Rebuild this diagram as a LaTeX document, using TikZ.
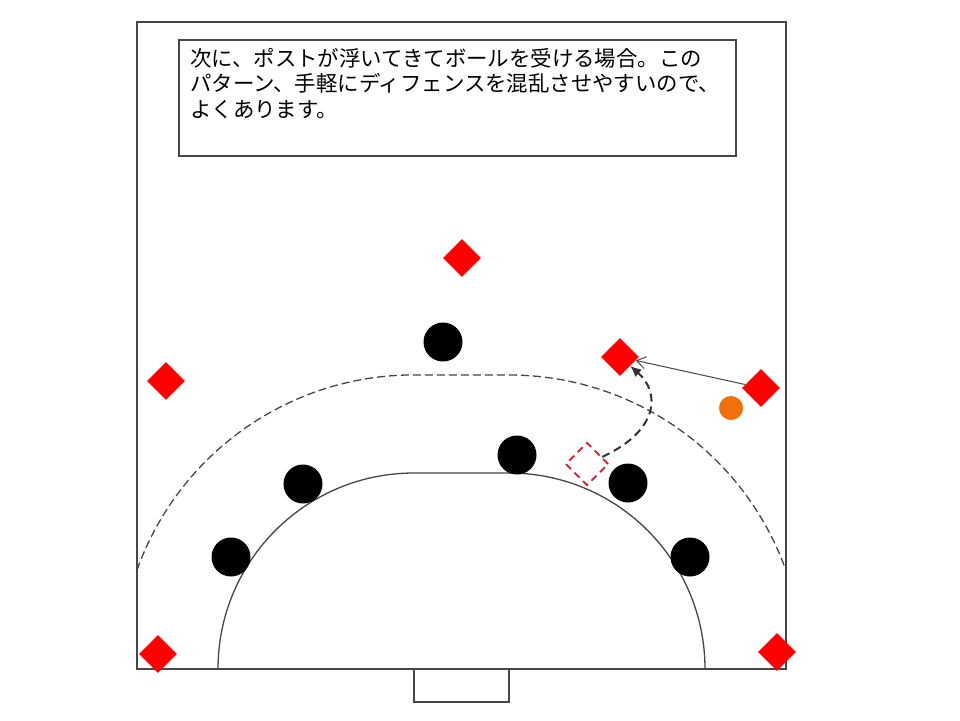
\documentclass[tikz,border=0pt]{standalone}
\usepackage{fontspec}
\newfontfamily\jpfont{Noto Sans CJK JP}
\usepackage{tikz}
\usetikzlibrary{shapes.geometric,arrows.meta}
\definecolor{courtgray}{RGB}{70,70,70}
\definecolor{ballorange}{RGB}{242,112,10}
\definecolor{ghostred}{RGB}{215,25,45}
\tikzset{attack node/.style={diamond,fill=red,minimum width=38pt,minimum height=38pt,inner sep=0pt},
	defense node/.style={circle,fill=black,minimum size=39pt,inner sep=0pt},
	ball node/.style={circle,fill=ballorange,minimum size=24pt,inner sep=0pt},
	ghost node/.style={diamond,draw=ghostred,dash pattern=on 7pt off 5pt,line width=1.8pt,minimum width=43pt,minimum height=43pt,inner sep=0pt},
	note node/.style={font=\jpfont\fontsize{21.4}{25.5}\selectfont,align=left,anchor=north west,inner sep=0pt},
}

\begin{document}
\begin{tikzpicture}[x=1pt,y=1pt]
	\useasboundingbox[fill=white] (0,0) rectangle (960,-720);
	\draw[courtgray,line width=1.8pt] (137,-22) rectangle (786,-669);
	\draw[courtgray,line width=1.4pt] (414,-669) rectangle (509,-702);
	\draw[courtgray,line width=1.3pt] (218,-669) arc[start angle=180,end angle=90,radius=196]
		-- (509,-473) arc[start angle=90,end angle=0,radius=196];
	\draw[courtgray,line width=1.3pt,dash pattern=on 8pt off 4pt] (137,-570) arc[start angle=160.34,end angle=90,radius=294]
		-- (509,-375) arc[start angle=90,end angle=19.66,radius=294];
	\draw[courtgray,line width=1.1pt] (179,-40) rectangle (736,-156);
	\node[note node] (note) at (190,-48) {次に、ポストが浮いてきてボールを受ける場合。この\\パターン、手軽にディフェンスを混乱させやすいので、\\よくあります。};
	
	\node[attack node] (a1) at (462,-258) {};
	\node[attack node] (a2) at (166,-381) {};
	\node[attack node] (a3) at (620,-357) {};
	\node[attack node] (a4) at (761,-388) {};
	\node[attack node] (a5) at (158,-654) {};
	\node[attack node] (a6) at (777,-652) {};
	\node[defense node] (d1) at (443,-342) {};
	\node[defense node] (d2) at (303,-484) {};
	\node[defense node] (d3) at (231,-557) {};
	\node[defense node] (d4) at (517,-455) {};
	\node[defense node] (d5) at (628,-483) {};
	\node[defense node] (d6) at (690,-557) {};
	\node[ball node] (b) at (731,-408) {};
	\node[ghost node] (g) at (587,-464) {};
	
	\path[draw]
	(a4) edge[courtgray,line width=1pt,-{Straight Barb[length=9pt,width=12pt]}] (a3);
	\draw[black!80,line width=2pt,dash pattern=on 8pt off 5pt,-{Latex[length=11pt,width=10pt]}]
		(g) .. controls (660,-430) and (660,-392) .. (a3);
\end{tikzpicture}
\end{document}
